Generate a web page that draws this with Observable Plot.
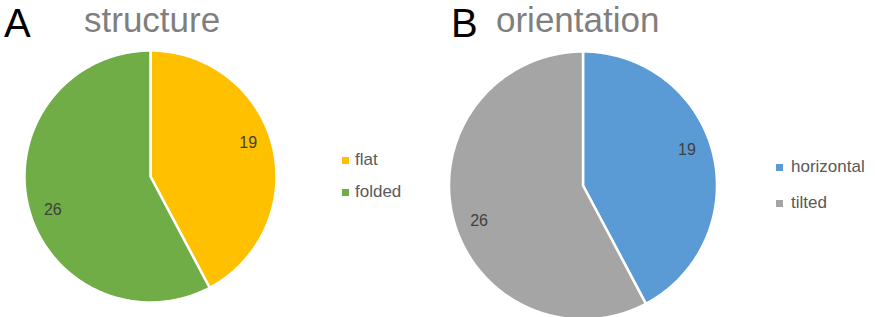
<!DOCTYPE html>
<html>
<head>
<meta charset="utf-8">
<script src="https://cdn.jsdelivr.net/npm/d3@7"></script>
<script src="https://cdn.jsdelivr.net/npm/@observablehq/plot@0.6"></script>
<style>
  html, body { margin: 0; padding: 0; background: #fff; overflow: hidden; }
  #wrap { position: relative; width: 875px; height: 317px; overflow: hidden; font-family: "Liberation Sans", Arial, sans-serif; }
  .panel { position: absolute; top: 0; }
  .letter { position: absolute; font-size: 40px; color: #000; line-height: 1; }
  .title { position: absolute; font-size: 35px; color: #7f7f7f; line-height: 1; }
  .legend { position: absolute; font-size: 17px; color: #595959; }
  .legend div { display: flex; align-items: center; }
  .legend div span.sw { display: inline-block; width: 7px; height: 7px; }
</style>
</head>
<body>
<div id="wrap"></div>
<script>
// Panel A data
const structureTitle = "structure";
const structureCategories = ["flat", "folded"];
const structureValues = [19, 26];
const structureColors = ["#FFC000", "#70AD47"];

// Panel B data
const orientationTitle = "orientation";
const orientationCategories = ["horizontal", "tilted"];
const orientationValues = [19, 26];
const orientationColors = ["#5B9BD5", "#A5A5A5"];

function slices(cats, vals) {
  const total = d3.sum(vals);
  let a = 0;
  return cats.map((c, i) => {
    const a0 = a, a1 = a + vals[i] / total * 2 * Math.PI;
    a = a1;
    const n = Math.max(2, Math.ceil((a1 - a0) / (Math.PI / 180)));
    const ring = [[0, 0]];
    for (let k = 0; k <= n; k++) {
      const t = a0 + (a1 - a0) * k / n;
      ring.push([Math.sin(t), -Math.cos(t)]);
    }
    ring.push([0, 0]);
    const mid = (a0 + a1) / 2 - 5 * Math.PI / 180;
    return {
      type: "Feature",
      properties: {category: c, value: vals[i], lx: 0.82 * Math.sin(mid), ly: -0.82 * Math.cos(mid)},
      geometry: {type: "Polygon", coordinates: [ring]}
    };
  });
}

function pie(cats, vals, colors, opts) {
  const features = slices(cats, vals);
  return Plot.plot({
    width: opts.width,
    height: opts.height,
    marginLeft: opts.ml, marginRight: opts.mr, marginTop: opts.mt, marginBottom: opts.mb,
    style: {background: "transparent", fontFamily: "Liberation Sans, Arial, sans-serif", overflow: "visible"},
    projection: {type: "identity", domain: {type: "MultiPoint", coordinates: [[-1, -1], [1, 1]]}},
    color: {domain: cats, range: colors},
    marks: [
      Plot.geo(features, {fill: d => d.properties.category, stroke: "white", strokeWidth: 2.5}),
      Plot.text(features, {x: d => d.properties.lx, y: d => d.properties.ly, text: d => String(d.properties.value), fill: "#404040", fontSize: 16})
    ]
  });
}

const wrap = document.getElementById("wrap");

function addPanel(left, letter, title, cats, vals, colors, opts, lay) {
  const p = document.createElement("div");
  p.className = "panel";
  p.style.left = left + "px";
  p.appendChild(pie(cats, vals, colors, opts));
  wrap.appendChild(p);

  const L = document.createElement("div");
  L.className = "letter"; L.textContent = letter;
  L.style.left = lay.lx + "px"; L.style.top = lay.ly + "px";
  wrap.appendChild(L);

  const T = document.createElement("div");
  T.className = "title"; T.textContent = title;
  T.style.left = lay.tx + "px"; T.style.top = lay.ty + "px";
  wrap.appendChild(T);

  const G = document.createElement("div");
  G.className = "legend";
  G.style.left = lay.gx + "px"; G.style.top = lay.gy + "px";
  cats.forEach((c, i) => {
    const row = document.createElement("div");
    row.style.height = lay.rh + "px";
    const sw = document.createElement("span");
    sw.className = "sw"; sw.style.background = colors[i]; sw.style.marginRight = lay.gap + "px";
    row.appendChild(sw);
    row.appendChild(document.createTextNode(c));
    G.appendChild(row);
  });
  wrap.appendChild(G);
}

addPanel(0, "A", structureTitle, structureCategories, structureValues, structureColors,
  {width: 430, height: 317, ml: 24, mr: 154, mt: 50, mb: 15},
  {lx: 4, ly: 3, tx: 84, ty: 2, gx: 342, gy: 144, rh: 32, gap: 6});

addPanel(430, "B", orientationTitle, orientationCategories, orientationValues, orientationColors,
  {width: 445, height: 320, ml: 18.5, mr: 158.5, mt: 51, mb: 1},
  {lx: 451, ly: 3, tx: 496, ty: 2, gx: 776, gy: 149, rh: 36, gap: 8});
</script>
</body>
</html>
